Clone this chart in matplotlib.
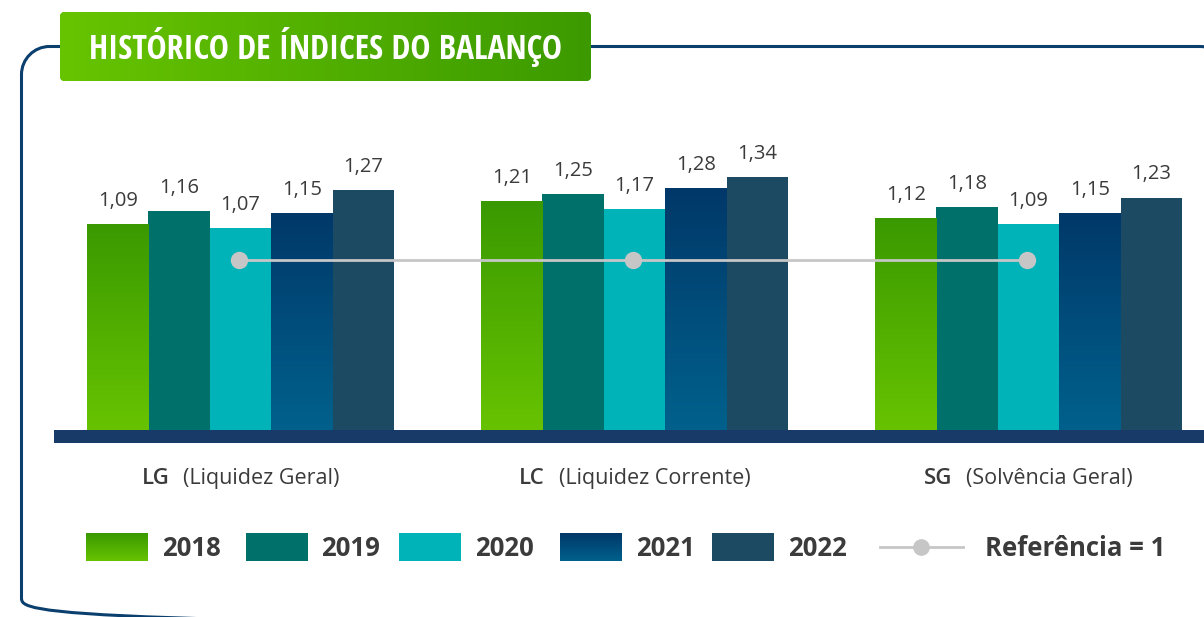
import matplotlib
matplotlib.use('Agg')
import matplotlib.pyplot as plt
import numpy as np
from matplotlib.patches import FancyBboxPatch, Rectangle, PathPatch
from matplotlib.path import Path
from matplotlib.colors import LinearSegmentedColormap
from matplotlib.offsetbox import TextArea, HPacker, AnnotationBbox
from matplotlib import font_manager

# ---------------- data ----------------
categories = ['LG', 'LC', 'SG']
category_names = ['(Liquidez Geral)', '(Liquidez Corrente)', '(Solvência Geral)']
years = ['2018', '2019', '2020', '2021', '2022']
values_2018 = [1.09, 1.21, 1.12]
values_2019 = [1.16, 1.25, 1.18]
values_2020 = [1.07, 1.17, 1.09]
values_2021 = [1.15, 1.28, 1.15]
values_2022 = [1.27, 1.34, 1.23]
series = [values_2018, values_2019, values_2020, values_2021, values_2022]
reference_label = 'Referência = 1'
reference_level = 0.90   # level at which the reference line is drawn in the picture
title = 'HISTÓRICO DE ÍNDICES DO BALANÇO'

# (top colour, bottom colour)
colors = [('#3a9900', '#67c300'),
          ('#00716a', '#00716a'),
          ('#00b3b8', '#00b3b8'),
          ('#003869', '#00618c'),
          ('#1b4a62', '#1b4a62')]
TEXT = '#3b3b3b'
REF = '#c6c6c6'
FRAME = '#0b3f6e'
BASE = '#173a69'

avail = {f.name for f in font_manager.fontManager.ttflist}
def pick(*names):
    for n in names:
        if n in avail:
            return n
    return 'DejaVu Sans'
title_family = pick('Liberation Sans Narrow', 'Open Sans Condensed', 'Roboto Condensed', 'Open Sans')
bold_family = pick('Open Sans', 'Noto Sans', 'DejaVu Sans')
light_family = pick('Open Sans', 'Lato', 'Noto Sans')

W, H = 1204, 617
fig = plt.figure(figsize=(W / 100, H / 100), dpi=100)

deco = fig.add_axes([0, 0, 1, 1], zorder=0)
deco.set_xlim(0, W)
deco.set_ylim(H, 0)
deco.axis('off')

ax = fig.add_axes([0, 0, 1, 1], zorder=1)
ax.patch.set_alpha(0)
ax.axis('off')
X0, SP = 240.5, 394.0          # pixel of first group centre, group spacing
Y0, SC = 430.0, 189.0          # pixel of value 0, pixels per unit
xlim = (-X0 / SP, (W - X0) / SP)
ylim = (-(H - Y0) / SC, Y0 / SC)

grad = np.linspace(0, 1, 256).reshape(-1, 1)
bw = 61.4 / SP
xg = np.arange(len(categories))

def grad_fill(axis, patch, top, bottom, extent, horizontal=False, z=2):
    cmap = LinearSegmentedColormap.from_list('g', [top, bottom])
    data = grad.T if horizontal else grad
    im = axis.imshow(data, extent=extent, cmap=cmap, aspect='auto',
                     origin='upper', zorder=z, interpolation='bicubic')
    im.set_clip_path(patch)
    return im

for i, (vals, (ct, cb)) in enumerate(zip(series, colors)):
    xs = xg + (i - 2) * bw
    bars = ax.bar(xs, vals, bw, color=cb, linewidth=0, zorder=2)
    if ct != cb:
        for b in bars:
            x0 = b.get_x()
            grad_fill(ax, b, ct, cb, [x0, x0 + bw, 0, b.get_height()], z=2.5)
    for x, v in zip(xs, vals):
        ax.annotate(f'{v:.2f}'.replace('.', ','), (x, v), xytext=(0, 13),
                    textcoords='offset points', ha='center', va='baseline',
                    fontsize=14.5, color=TEXT, family=light_family, zorder=4)

# reference line
ax.plot(xg - 0.005, [reference_level] * len(xg), color=REF, lw=2, marker='o',
        ms=11.5, zorder=3, solid_capstyle='butt')

# category labels
for k, (c, n) in enumerate(zip(categories, category_names)):
    pack = HPacker(children=[
        TextArea(c, textprops=dict(fontsize=16, weight='semibold', color=TEXT, family=bold_family)),
        TextArea(n, textprops=dict(fontsize=15.5, color=TEXT, family=light_family))],
        sep=10, pad=0, align='baseline')
    ab = AnnotationBbox(pack, (k, -0.254), xycoords='data', frameon=False,
                        box_alignment=(0.5, 0.5), zorder=4)
    ax.add_artist(ab)

ax.set_xlim(*xlim)
ax.set_ylim(*ylim)

# ---------------- decoration ----------------
def rounded_rect(x0, y0, x1, y1, r):
    k = 0.5523 * r
    verts = [(x0 + r, y0), (x1 - r, y0),
             (x1 - r + k, y0), (x1, y0 + r - k), (x1, y0 + r),
             (x1, y1 - r),
             (x1, y1 - r + k), (x1 - r + k, y1), (x1 - r, y1),
             (x0 + r, y1),
             (x0 + r - k, y1), (x0, y1 - r + k), (x0, y1 - r),
             (x0, y0 + r),
             (x0, y0 + r - k), (x0 + r - k, y0), (x0 + r, y0),
             (x0 + r, y0)]
    codes = [Path.MOVETO, Path.LINETO,
             Path.CURVE4, Path.CURVE4, Path.CURVE4,
             Path.LINETO,
             Path.CURVE4, Path.CURVE4, Path.CURVE4,
             Path.LINETO,
             Path.CURVE4, Path.CURVE4, Path.CURVE4,
             Path.LINETO,
             Path.CURVE4, Path.CURVE4, Path.CURVE4,
             Path.CLOSEPOLY]
    return Path(verts, codes)

frame = PathPatch(rounded_rect(21.5, 46.5, 1228, 626, 28), fill=False, ec=FRAME,
                  lw=2.2, zorder=1)
deco.add_patch(frame)

tb = FancyBboxPatch((60, 12), 531, 69, boxstyle='round,pad=0,rounding_size=5',
                    fc='#55b000', ec='none', zorder=2)
deco.add_patch(tb)
grad_fill(deco, tb, '#67c400', '#3c9a00', [60, 591, 81, 12], horizontal=True, z=3)
tt = deco.text(325.5, 47, title, color='white', weight='bold', family=title_family,
               ha='center', va='center', fontsize=18, zorder=4)

deco.add_patch(Rectangle((54, 430), W - 54, 13, fc=BASE, ec='none', zorder=2))

# legend
patch_x = [86, 246, 399, 560, 712]
text_x = [162, 321, 475, 636, 788]
ly = 547
for i, y in enumerate(years):
    ct, cb = colors[i]
    r = Rectangle((patch_x[i], 533), 62, 28, fc=cb, ec='none', zorder=2)
    deco.add_patch(r)
    if ct != cb:
        grad_fill(deco, r, ct, cb, [patch_x[i], patch_x[i] + 62, 561, 533], z=3)
    deco.text(text_x[i], ly + 1.5, y, fontsize=18.5, weight='bold', family=bold_family,
              color=TEXT, ha='left', va='center', zorder=4)
deco.plot([880, 963], [ly, ly], color=REF, lw=2, zorder=3)
deco.plot([921], [ly], 'o', color=REF, ms=11, zorder=3)
deco.text(985, ly + 1.5, reference_label, fontsize=18.5, weight='bold', family=bold_family,
          color=TEXT, ha='left', va='center', zorder=4)

deco.set_xlim(0, W)
deco.set_ylim(H, 0)

# fit title width
r = fig.canvas.get_renderer()
w = tt.get_window_extent(r).width
tt.set_fontsize(tt.get_fontsize() * 474 / w)

fig.savefig('out.png', dpi=100)
